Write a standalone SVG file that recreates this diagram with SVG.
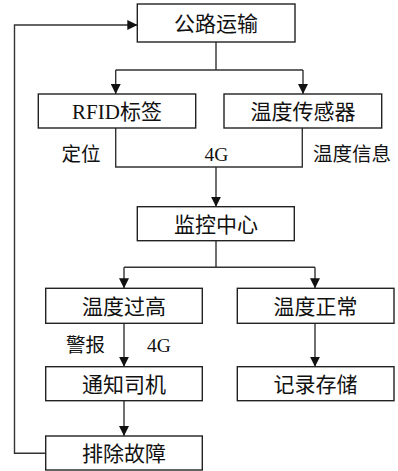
<svg xmlns="http://www.w3.org/2000/svg" width="398" height="471" viewBox="0 0 398 471">
<style>
.box{fill:#fff;stroke:#222;stroke-width:1.4}
.ln{fill:none;stroke:#333;stroke-width:1.4}
.t{font-family:"Liberation Serif","Noto Sans CJK SC",serif;font-size:21px;fill:#111;text-anchor:middle}
.l{font-family:"Liberation Serif","Noto Sans CJK SC",serif;font-size:19.5px;fill:#111;text-anchor:middle}
</style>
<defs>
<marker id="ah" viewBox="0 0 10 10" refX="10" refY="5" markerWidth="10" markerHeight="10" markerUnits="userSpaceOnUse" orient="auto">
<path d="M0,0 L10,5 L0,10 Z" fill="#111"/>
</marker>
</defs>
<g id="connectors">
<path class="ln" d="M216,42 V70 M115.7,70 H303"/>
<path class="ln" d="M115.7,70 V94" marker-end="url(#ah)"/>
<path class="ln" d="M303,70 V94" marker-end="url(#ah)"/>
<path class="ln" d="M115.7,128 V167 H302.3 V128"/>
<path class="ln" d="M216,167 V206.7" marker-end="url(#ah)"/>
<path class="ln" d="M216,240.7 V267.3 M124,267.3 H315"/>
<path class="ln" d="M124,267.3 V288.3" marker-end="url(#ah)"/>
<path class="ln" d="M315,267.3 V288.3" marker-end="url(#ah)"/>
<path class="ln" d="M124,323.3 V366.7" marker-end="url(#ah)"/>
<path class="ln" d="M315,323.3 V366.7" marker-end="url(#ah)"/>
<path class="ln" d="M124,400.7 V436" marker-end="url(#ah)"/>
<path class="ln" d="M45.7,453.3 H14.5 V25 H137.3" marker-end="url(#ah)"/>
<text class="l" x="81" y="161">定位</text>
<text class="l" x="216.5" y="161">4G</text>
<text class="l" x="352" y="161">温度信息</text>
<text class="l" x="85.5" y="352">警报</text>
<text class="l" x="159" y="352">4G</text>
</g>
<g id="n1"><rect class="box" x="137.3" y="4" width="157.7" height="38"/><text class="t" x="216" y="30.5">公路运输</text></g>
<g id="n2"><rect class="box" x="38.3" y="94" width="157.4" height="34"/><text class="t" x="117" y="118.5">RFID标签</text></g>
<g id="n3"><rect class="box" x="224" y="94" width="157.7" height="34"/><text class="t" x="303" y="118.5">温度传感器</text></g>
<g id="n4"><rect class="box" x="137.3" y="206.7" width="157" height="34"/><text class="t" x="216" y="231.5">监控中心</text></g>
<g id="n5"><rect class="box" x="45.7" y="288.3" width="156.6" height="35"/><text class="t" x="124" y="313.5">温度过高</text></g>
<g id="n6"><rect class="box" x="237.3" y="288.3" width="156.7" height="35"/><text class="t" x="315.5" y="313.5">温度正常</text></g>
<g id="n7"><rect class="box" x="45.7" y="366.7" width="156.6" height="34"/><text class="t" x="124" y="391.5">通知司机</text></g>
<g id="n8"><rect class="box" x="237.3" y="366.7" width="156.7" height="34"/><text class="t" x="315.5" y="391.5">记录存储</text></g>
<g id="n9"><rect class="box" x="45.7" y="436" width="156.6" height="34"/><text class="t" x="124" y="460.5">排除故障</text></g>
</svg>
